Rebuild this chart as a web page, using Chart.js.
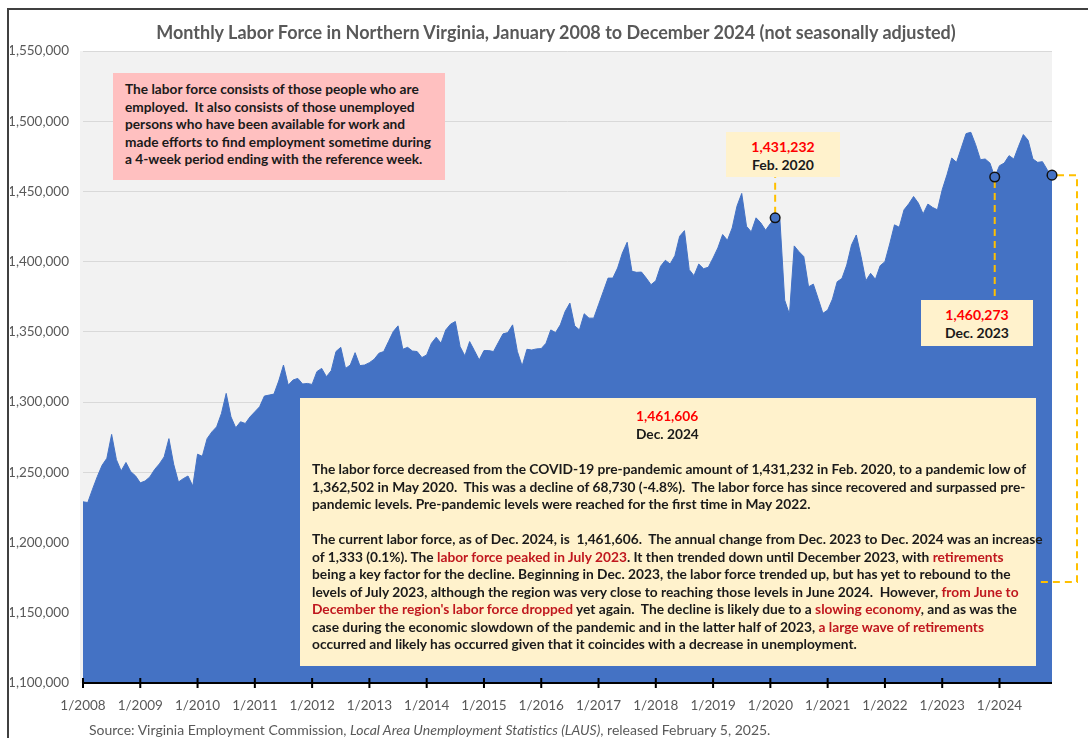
<!DOCTYPE html>
<html>
<head>
<meta charset="utf-8">
<script src="https://cdn.jsdelivr.net/npm/chart.js@4"></script>
<style>
  body { margin: 0; background: #fff; }
  #wrap { position: relative; width: 1088px; height: 738px; overflow: hidden; font-family: Lato, "Noto Sans", sans-serif; }
  #chart { position: absolute; left: 0; top: 0; }
  #frame { position: absolute; left: 7px; top: 8px; width: 1200px; height: 800px; border-left: 2px solid #404040; border-top: 2px solid #404040; }
  #title { position: absolute; left: 0; width: 1112px; top: 21px; text-align: center; font-weight: bold; font-size: 18px; color: #595959; white-space: nowrap; }
  .box { position: absolute; font-weight: bold; color: #1a1a1a; white-space: nowrap; box-sizing: border-box; }
  .pink { background: #ffc0c0; left: 113px; top: 73px; width: 332px; height: 107px; padding: 7px 0 0 12px; font-size: 13.7px; line-height: 17.5px; }
  .tag { background: #fff2cc; text-align: center; font-size: 14px; line-height: 17.5px; padding-top: 6px; }
  .red { color: #ff0000; }
  .dred { color: #c0181e; }
  .big { background: #fff2cc; left: 300px; top: 398px; width: 736px; height: 268px; font-size: 13.75px; line-height: 17.5px; }
  .big .head { position: absolute; left: 0; width: 736px; top: 9px; text-align: left; padding-left: 336px; }
  .big .body { position: absolute; left: 12px; top: 62px; }
  #source { position: absolute; left: 89px; top: 721px; font-size: 14px; color: #595959; white-space: nowrap; }
</style>
</head>
<body>
<div id="wrap">
  <canvas id="chart" width="1088" height="738"></canvas>
  <div id="frame"></div>
  <div id="title">Monthly Labor Force in Northern Virginia, January 2008 to December 2024 (not seasonally adjusted)</div>

  <div class="box pink">The labor force consists of those people who are<br>employed.&nbsp; It also consists of those unemployed<br>persons who have been available for work and<br>made efforts to find employment sometime during<br>a 4-week period ending with the reference week.</div>

  <div class="box tag" style="left:726px;top:132px;width:114px;height:45px"><span class="red">1,431,232</span><br>Feb. 2020</div>
  <div class="box tag" style="left:921px;top:300px;width:112px;height:46px"><span class="red">1,460,273</span><br>Dec. 2023</div>

  <div class="box big">
    <div class="head"><span class="red">1,461,606</span><br>Dec. 2024</div>
    <div class="body">The labor force decreased from the COVID-19 pre-pandemic amount of 1,431,232 in Feb. 2020, to a pandemic low of<br>1,362,502 in May 2020.&nbsp; This was a decline of 68,730 (-4.8%).&nbsp; The labor force has since recovered and surpassed pre-<br>pandemic levels. Pre-pandemic levels were reached for the first time in May 2022.<br><br>The current labor force, as of Dec. 2024, is&nbsp; 1,461,606.&nbsp; The annual change from Dec. 2023 to Dec. 2024 was an increase<br>of 1,333 (0.1%). The <span class="dred">labor force peaked in July 2023</span>. It then trended down until December 2023, with <span class="dred">retirements</span><br>being a key factor for the decline. Beginning in Dec. 2023, the labor force trended up, but has yet to rebound to the<br>levels of July 2023, although the region was very close to reaching those levels in June 2024.&nbsp; However, <span class="dred">from June to</span><br><span class="dred">December the region's labor force dropped</span> yet again.&nbsp; The decline is likely due to a <span class="dred">slowing economy</span>, and as was the<br>case during the economic slowdown of the pandemic and in the latter half of 2023, <span class="dred">a large wave of retirements</span><br>occurred and likely has occurred given that it coincides with a decrease in unemployment.</div>
  </div>

  <div id="source">Source: Virginia Employment Commission, <i>Local Area Unemployment Statistics (LAUS)</i>, released February 5, 2025.</div>
</div>
<script>
// monthly labor force, Jan..Dec of each year
const years = [2008, 2009, 2010, 2011, 2012, 2013, 2014, 2015, 2016, 2017, 2018, 2019, 2020, 2021, 2022, 2023, 2024];
const lf2008 = [1229000, 1228500, 1238000, 1247000, 1255000, 1260000, 1277000, 1259000, 1251000, 1257000, 1250500, 1247500];
const lf2009 = [1242500, 1243800, 1246700, 1252000, 1256000, 1261000, 1274000, 1255700, 1243100, 1245500, 1247400, 1240200];
const lf2010 = [1262900, 1261400, 1274000, 1278800, 1282400, 1291900, 1306200, 1289500, 1281700, 1286000, 1284800, 1289500];
const lf2011 = [1293100, 1296700, 1304300, 1305000, 1305700, 1315000, 1326400, 1312100, 1315700, 1316900, 1312900, 1313300];
const lf2012 = [1312600, 1321700, 1324000, 1318100, 1322400, 1336000, 1339000, 1324000, 1326400, 1335200, 1326000, 1326400];
const lf2013 = [1328100, 1330500, 1334800, 1336000, 1343100, 1350200, 1354300, 1337600, 1339000, 1336400, 1336000, 1331700];
const lf2014 = [1333600, 1341900, 1346200, 1341900, 1351400, 1355500, 1357400, 1339500, 1332900, 1343100, 1336700, 1330000];
const lf2015 = [1336700, 1336700, 1336000, 1342400, 1348600, 1349500, 1355000, 1336000, 1325700, 1337600, 1337100, 1337900];
const lf2016 = [1338100, 1341900, 1351400, 1349500, 1355000, 1364500, 1370500, 1354300, 1351400, 1362900, 1359800, 1359800];
const lf2017 = [1369300, 1378800, 1388300, 1388300, 1395500, 1406200, 1413800, 1393100, 1392400, 1392600, 1388300, 1383600];
const lf2018 = [1386400, 1396700, 1401000, 1398300, 1404300, 1418100, 1422100, 1394300, 1390000, 1398300, 1395000, 1396000];
const lf2019 = [1402600, 1409800, 1419300, 1415200, 1424000, 1439500, 1448600, 1425200, 1421200, 1431200, 1427600, 1422400];
const lf2020 = [1427100, 1431232, 1429800, 1372600, 1362502, 1411200, 1407100, 1403600, 1382100, 1384000, 1373800, 1363200];
const lf2021 = [1365500, 1373300, 1385700, 1388100, 1397600, 1411900, 1419000, 1403600, 1386400, 1391700, 1387400, 1397100];
const lf2022 = [1400000, 1412600, 1426200, 1424500, 1436900, 1441200, 1446400, 1441700, 1434000, 1441000, 1438600, 1436900];
const lf2023 = [1451200, 1461900, 1473800, 1470700, 1481000, 1491200, 1492100, 1483300, 1472600, 1473100, 1470200, 1460273];
const lf2024 = [1468300, 1470200, 1475500, 1473100, 1482100, 1490500, 1486400, 1473100, 1470700, 1471200, 1465500, 1461606];

// points called out with a marker and a label box
const calloutMonths = ['2/2020', '12/2023', '12/2024'];

const months = [];
years.forEach(y => { for (let m = 1; m <= 12; m++) months.push(m + '/' + y); });
const laborForce = [].concat(lf2008, lf2009, lf2010, lf2011, lf2012, lf2013, lf2014, lf2015,
  lf2016, lf2017, lf2018, lf2019, lf2020, lf2021, lf2022, lf2023, lf2024);
const callouts = months.map((m, i) => calloutMonths.includes(m) ? laborForce[i] : null);

Chart.defaults.font.family = 'Lato, "Noto Sans", sans-serif';

const plotBg = {
  id: 'plotBg',
  beforeDraw(chart) {
    const { ctx, chartArea: a } = chart;
    ctx.save();
    ctx.fillStyle = '#f2f2f2';
    ctx.fillRect(a.left - 3, a.top, a.right - a.left + 3, a.bottom - a.top);
    ctx.restore();
  }
};

// leader lines from the markers to their label boxes
const leaders = {
  id: 'leaders',
  afterDatasetDraw(chart, args) {
    if (args.index !== 1) return;
    const { ctx, scales: { x, y } } = chart;
    const pt = m => {
      const i = months.indexOf(m);
      return [x.getPixelForValue(i), y.getPixelForValue(laborForce[i])];
    };
    const [fx, fy] = pt('2/2020');
    const [dx, dy] = pt('12/2023');
    const [ex, ey] = pt('12/2024');
    ctx.save();
    ctx.strokeStyle = '#ffc000';
    ctx.lineWidth = 2;
    ctx.setLineDash([7, 5]);
    ctx.beginPath();
    ctx.moveTo(fx, fy - 4); ctx.lineTo(fx, 177);
    ctx.moveTo(dx, dy + 4); ctx.lineTo(dx, 300);
    ctx.moveTo(ex + 5, ey); ctx.lineTo(1077, ey); ctx.lineTo(1077, 582); ctx.lineTo(1036, 582);
    ctx.stroke();
    ctx.restore();
  }
};

// category axis line with cross tick marks at each January
const xAxisLine = {
  id: 'xAxisLine',
  afterDatasetsDraw(chart) {
    const { ctx, chartArea: a, scales: { x } } = chart;
    ctx.save();
    ctx.strokeStyle = '#000';
    ctx.lineWidth = 2;
    ctx.beginPath();
    ctx.moveTo(a.left, a.bottom); ctx.lineTo(a.right, a.bottom);
    months.forEach((m, i) => {
      if (i % 12 === 0) {
        const px = x.getPixelForValue(i);
        ctx.moveTo(px, a.bottom - 5); ctx.lineTo(px, a.bottom + 5);
      }
    });
    ctx.stroke();
    ctx.restore();
  }
};

new Chart(document.getElementById('chart'), {
  type: 'line',
  data: {
    labels: months,
    datasets: [{
      label: 'Callouts',
      data: callouts,
      showLine: false,
      pointRadius: 4.8,
      pointBackgroundColor: '#4472c4',
      pointBorderColor: '#111111',
      pointBorderWidth: 1.5,
      order: 0
    }, {
      label: 'Labor force',
      data: laborForce,
      fill: 'start',
      backgroundColor: '#4472c4',
      borderColor: '#4472c4',
      borderWidth: 1,
      pointRadius: 0,
      tension: 0,
      order: 1
    }]
  },
  options: {
    responsive: false,
    animation: false,
    layout: { padding: { left: 10, right: 36, top: 51, bottom: 22 } },
    plugins: { legend: { display: false }, tooltip: { enabled: false } },
    scales: {
      x: {
        offset: false,
        grid: { display: false },
        border: { display: false },
        ticks: {
          autoSkip: false, maxRotation: 0, color: '#595959', font: { size: 13.5 }, padding: 7,
          callback: (v, i) => i % 12 === 0 ? months[i] : null
        },
        afterFit: s => { s.height = 33; }
      },
      y: {
        min: 1100000, max: 1550000,
        grid: { color: '#d9d9d9', drawTicks: false },
        border: { display: false },
        ticks: {
          stepSize: 50000, color: '#595959', font: { size: 13.5 }, padding: 14,
          callback: v => v.toLocaleString('en-US')
        },
        afterFit: s => { s.width = 73; }
      }
    }
  },
  plugins: [plotBg, leaders, xAxisLine]
});
</script>
</body>
</html>
